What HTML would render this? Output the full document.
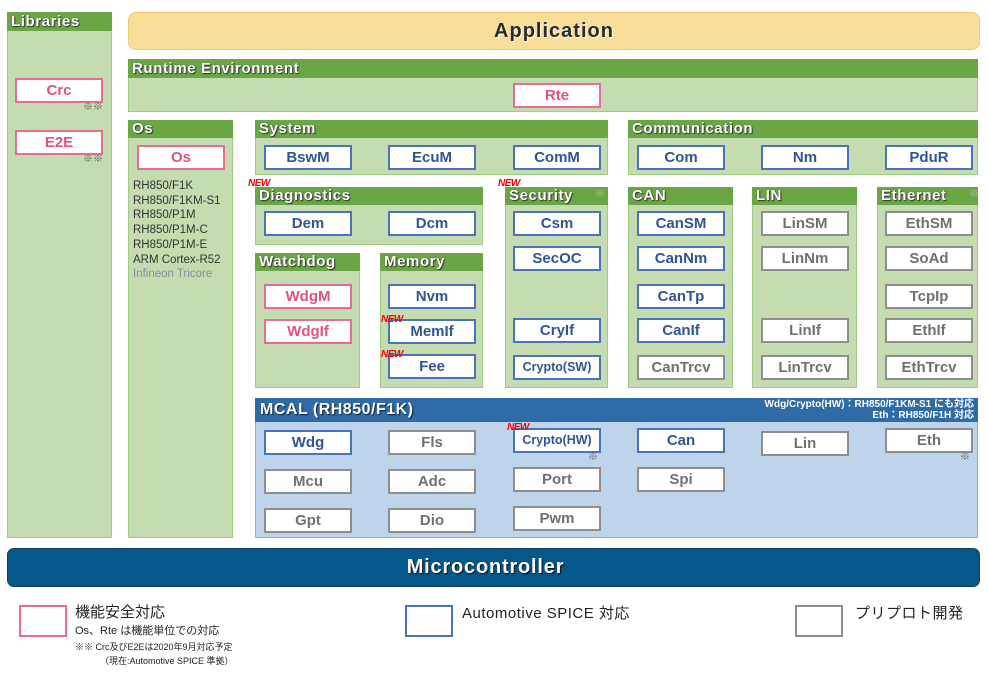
<!DOCTYPE html>
<html><head><meta charset="utf-8">
<style>
*{margin:0;padding:0;box-sizing:border-box}
body{width:988px;height:681px;background:#fff;position:relative;overflow:hidden;font-family:"Liberation Sans","Noto Sans CJK JP",sans-serif}
.a{position:absolute}
.p{position:absolute;background:#c4dcb0;border:1px solid #9fcb82}
.h{position:absolute;left:-1px;right:-1px;top:-1px;background:#6aa744;color:#fff;font-weight:bold;font-size:15px;line-height:18px;height:18px;padding-left:4px;text-shadow:1px 1px 1px #333,0 0 1px #333;letter-spacing:0.6px;white-space:nowrap}
.b{position:absolute;width:88px;height:25px;background:#fff;border:2px solid;text-align:center;font-weight:bold;font-size:15px;line-height:21px;white-space:nowrap}
.pk{border-color:#e96d93;color:#e2527f}
.bl{border-color:#4a73bf;color:#2f5597}
.gr{border-color:#8e8e8e;color:#707070}
.new{position:absolute;color:#f00;font-style:italic;font-weight:bold;font-size:10px;line-height:10px;letter-spacing:-0.5px}
.km{position:absolute;color:#555;font-size:10px;line-height:10px}
.os{position:absolute;left:133px;font-size:11.5px;line-height:14.7px;color:#333}
</style></head><body>

<!-- Libraries -->
<div class="p" style="left:7px;top:12px;width:105px;height:526px"><div class="h" style="height:19px;line-height:19px">Libraries</div></div>
<div class="b pk" style="left:15px;top:78px">Crc</div>
<div class="km" style="left:83px;top:103px">※※</div>
<div class="b pk" style="left:15px;top:130px">E2E</div>
<div class="km" style="left:83px;top:155px">※※</div>

<!-- Application -->
<div class="a" style="left:128px;top:12px;width:852px;height:38px;background:#f8de99;border:1px solid #f0c874;border-radius:8px;text-align:center;font-weight:bold;font-size:20px;line-height:36px;color:#2a2a2a;letter-spacing:1px;text-shadow:1px 1px 1px #fff">Application</div>

<!-- RTE -->
<div class="p" style="left:128px;top:59px;width:850px;height:53px"><div class="h" style="height:19px;line-height:19px">Runtime Environment</div></div>
<div class="b pk" style="left:513px;top:83px">Rte</div>

<!-- Os -->
<div class="p" style="left:128px;top:120px;width:105px;height:418px"><div class="h">Os</div></div>
<div class="b pk" style="left:137px;top:145px">Os</div>
<div class="os" style="top:179px">RH850/F1K<br>RH850/F1KM-S1<br>RH850/P1M<br>RH850/P1M-C<br>RH850/P1M-E<br>ARM Cortex-R52<br><span style="color:#8b8ba0">Infineon Tricore</span></div>

<!-- System -->
<div class="p" style="left:255px;top:120px;width:353px;height:55px"><div class="h">System</div></div>
<div class="b bl" style="left:264px;top:145px">BswM</div>
<div class="b bl" style="left:388px;top:145px">EcuM</div>
<div class="b bl" style="left:513px;top:145px">ComM</div>

<!-- Communication -->
<div class="p" style="left:628px;top:120px;width:350px;height:55px"><div class="h">Communication</div></div>
<div class="b bl" style="left:637px;top:145px">Com</div>
<div class="b bl" style="left:761px;top:145px">Nm</div>
<div class="b bl" style="left:885px;top:145px">PduR</div>

<!-- Diagnostics -->
<div class="p" style="left:255px;top:187px;width:228px;height:58px"><div class="h">Diagnostics</div></div>
<div class="new" style="left:248px;top:179px">NEW</div>
<div class="b bl" style="left:264px;top:211px">Dem</div>
<div class="b bl" style="left:388px;top:211px">Dcm</div>

<!-- Security -->
<div class="p" style="left:505px;top:187px;width:103px;height:201px"><div class="h">Security</div></div>
<div class="new" style="left:498px;top:179px">NEW</div>
<div class="km" style="left:595px;top:190px;color:#bbb">※</div>
<div class="b bl" style="left:513px;top:211px">Csm</div>
<div class="b bl" style="left:513px;top:246px">SecOC</div>
<div class="b bl" style="left:513px;top:318px">CryIf</div>
<div class="b bl" style="left:513px;top:355px;font-size:12.5px">Crypto(SW)</div>

<!-- Watchdog -->
<div class="p" style="left:255px;top:253px;width:105px;height:135px"><div class="h">Watchdog</div></div>
<div class="b pk" style="left:264px;top:284px">WdgM</div>
<div class="b pk" style="left:264px;top:319px">WdgIf</div>

<!-- Memory -->
<div class="p" style="left:380px;top:253px;width:103px;height:135px"><div class="h">Memory</div></div>
<div class="b bl" style="left:388px;top:284px">Nvm</div>
<div class="b bl" style="left:388px;top:319px">MemIf</div>
<div class="new" style="left:381px;top:315px">NEW</div>
<div class="b bl" style="left:388px;top:354px">Fee</div>
<div class="new" style="left:381px;top:350px">NEW</div>

<!-- CAN -->
<div class="p" style="left:628px;top:187px;width:105px;height:201px"><div class="h">CAN</div></div>
<div class="b bl" style="left:637px;top:211px">CanSM</div>
<div class="b bl" style="left:637px;top:246px">CanNm</div>
<div class="b bl" style="left:637px;top:284px">CanTp</div>
<div class="b bl" style="left:637px;top:318px">CanIf</div>
<div class="b gr" style="left:637px;top:355px">CanTrcv</div>

<!-- LIN -->
<div class="p" style="left:752px;top:187px;width:105px;height:201px"><div class="h">LIN</div></div>
<div class="b gr" style="left:761px;top:211px">LinSM</div>
<div class="b gr" style="left:761px;top:246px">LinNm</div>
<div class="b gr" style="left:761px;top:318px">LinIf</div>
<div class="b gr" style="left:761px;top:355px">LinTrcv</div>

<!-- Ethernet -->
<div class="p" style="left:877px;top:187px;width:101px;height:201px"><div class="h">Ethernet</div></div>
<div class="km" style="left:969px;top:190px;color:#bbb">※</div>
<div class="b gr" style="left:885px;top:211px">EthSM</div>
<div class="b gr" style="left:885px;top:246px">SoAd</div>
<div class="b gr" style="left:885px;top:284px">TcpIp</div>
<div class="b gr" style="left:885px;top:318px">EthIf</div>
<div class="b gr" style="left:885px;top:355px">EthTrcv</div>

<!-- MCAL -->
<div class="a" style="left:255px;top:398px;width:723px;height:140px;background:#bdd4ea;border:1px solid #8fb2d8"></div>
<div class="a" style="left:255px;top:398px;width:723px;height:24px;background:#2e6ba7;color:#fff;font-weight:bold;font-size:16px;line-height:24px;padding-left:5px;letter-spacing:0.5px;text-shadow:1px 1px 1px #123">MCAL (RH850/F1K)</div>
<div class="a" style="left:600px;top:400px;width:374px;text-align:right;color:#fff;font-size:10px;line-height:10.5px;font-weight:bold">Wdg/Crypto(HW)：RH850/F1KM-S1 にも対応<br>Eth：RH850/F1H 対応</div>

<div class="b bl" style="left:264px;top:430px">Wdg</div>
<div class="b gr" style="left:388px;top:430px">Fls</div>
<div class="b bl" style="left:513px;top:428px;font-size:12.5px">Crypto(HW)</div>
<div class="new" style="left:507px;top:423px">NEW</div>
<div class="km" style="left:588px;top:453px">※</div>
<div class="b bl" style="left:637px;top:428px">Can</div>
<div class="b gr" style="left:761px;top:431px">Lin</div>
<div class="b gr" style="left:885px;top:428px">Eth</div>
<div class="km" style="left:960px;top:453px">※</div>

<div class="b gr" style="left:264px;top:469px">Mcu</div>
<div class="b gr" style="left:388px;top:469px">Adc</div>
<div class="b gr" style="left:513px;top:467px">Port</div>
<div class="b gr" style="left:637px;top:467px">Spi</div>

<div class="b gr" style="left:264px;top:508px">Gpt</div>
<div class="b gr" style="left:388px;top:508px">Dio</div>
<div class="b gr" style="left:513px;top:506px">Pwm</div>

<!-- Microcontroller -->
<div class="a" style="left:7px;top:548px;width:973px;height:39px;background:#04578a;border:1px solid #1c3a55;border-radius:7px;text-align:center;color:#fff;font-weight:bold;font-size:20px;line-height:37px;letter-spacing:0.8px;text-shadow:1px 1px 1px #111;padding-right:16px">Microcontroller</div>

<!-- Legend -->
<div class="a" style="left:19px;top:605px;width:48px;height:32px;border:2px solid #e96d93"></div>
<div class="a" style="left:75px;top:604px;font-size:15px;line-height:18px;color:#222">機能安全対応</div>
<div class="a" style="left:75px;top:624px;font-size:11px;line-height:14px;color:#222">Os、Rte は機能単位での対応</div>
<div class="a" style="left:75px;top:641px;font-size:9px;line-height:12px;color:#222">※※ Crc及びE2Eは2020年9月対応予定</div>
<div class="a" style="left:100px;top:655px;font-size:9px;line-height:12px;color:#222">（現在:Automotive SPICE 準拠）</div>

<div class="a" style="left:405px;top:605px;width:48px;height:32px;border:2px solid #4a73bf"></div>
<div class="a" style="left:462px;top:605px;font-size:15px;line-height:18px;color:#222;letter-spacing:0.5px">Automotive SPICE 対応</div>

<div class="a" style="left:795px;top:605px;width:48px;height:32px;border:2px solid #8e8e8e"></div>
<div class="a" style="left:855px;top:605px;font-size:15px;line-height:18px;color:#222;letter-spacing:0.5px">プリプロト開発</div>

</body></html>
